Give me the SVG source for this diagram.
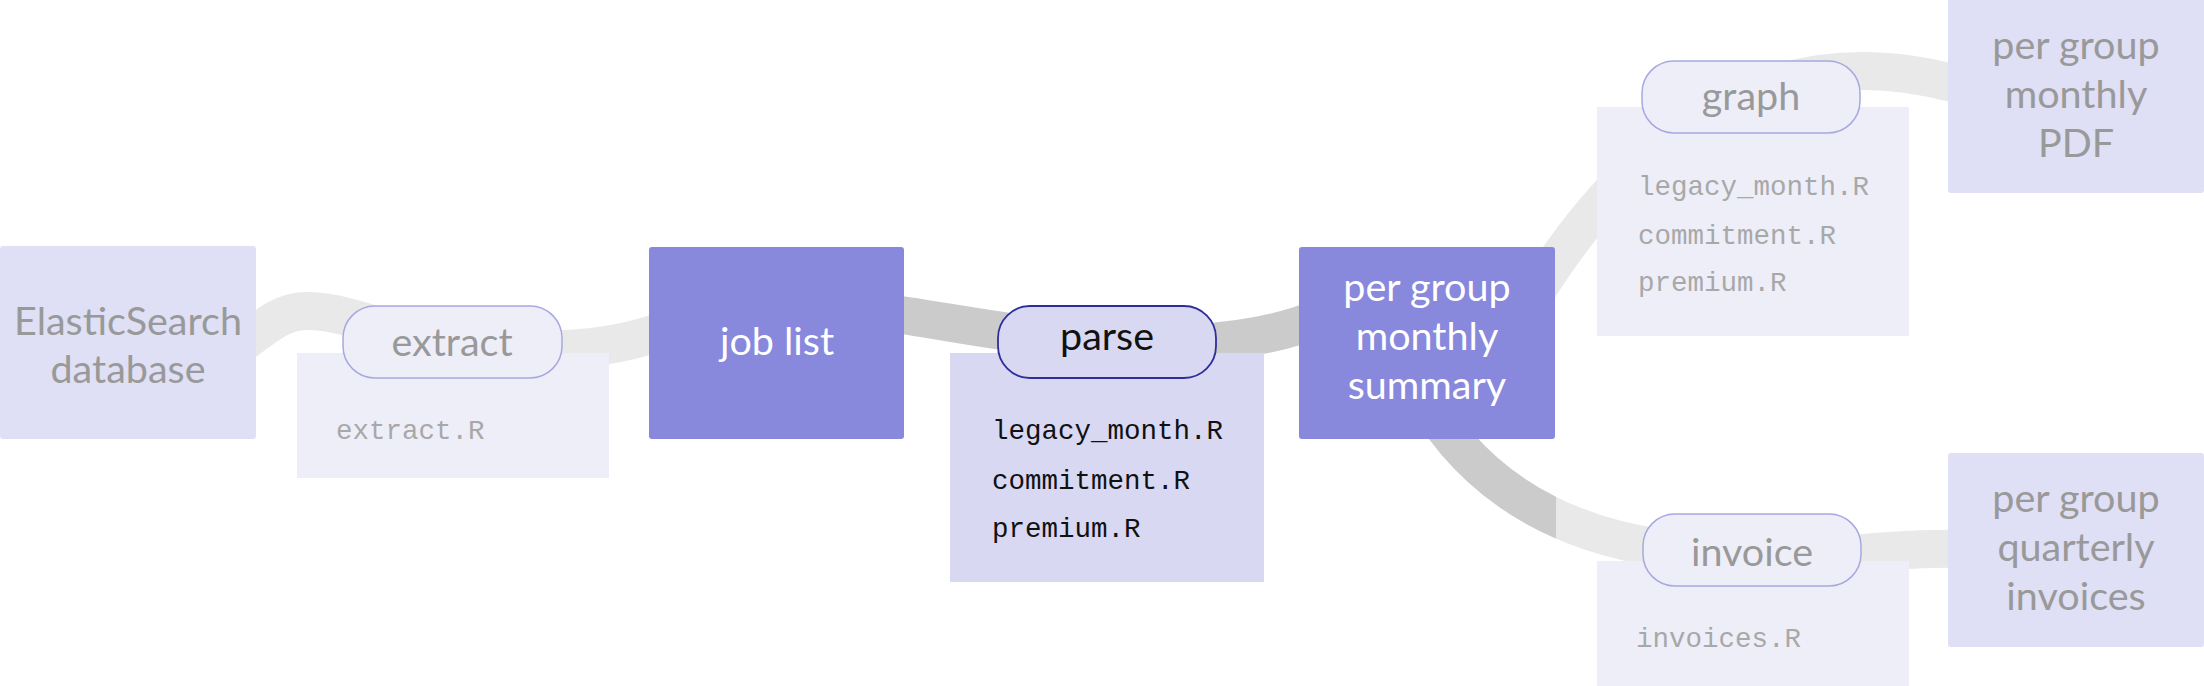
<svg xmlns="http://www.w3.org/2000/svg" width="2204" height="686" viewBox="0 0 2204 686">
<defs>
<style>
.lbl{font-family:Lato,"Liberation Sans",sans-serif;font-size:39.5px;text-anchor:middle}
.mono{font-family:"Courier New","Liberation Mono",monospace;font-size:27.5px}
.faded{fill:#dfdff5}
.active{fill:#8888dd}
.ftxt{fill:#999999}
.wtxt{fill:#ffffff}
.btxt{fill:#111111}
.mtxt{fill:#a8a8a8}
.pill-f{fill:#eeeef9;stroke:#a8a8e0;stroke-width:1.5}
.pill-a{fill:#d8d8f2;stroke:#2e2e9a;stroke-width:1.8}
.files-f{fill:#eeeef9}
.files-a{fill:#d8d8f2}
.band{fill:none;stroke-width:38}
.light{stroke:#e9e9e9}
.dark{stroke:#cbcbcb}
</style>
<clipPath id="leftOfCut"><rect x="0" y="0" width="1556" height="686"/></clipPath>
</defs>
<rect x="0" y="0" width="2204" height="686" fill="#ffffff"/>

<g id="connectors">
  <path class="band light" d="M240,345 C262,330 278,312 305,311 C345,310 380,332 450,341 C525,352 600,356 670,328"/>
  <path class="band dark" d="M880,312 C930,318 1000,333 1060,338 C1150,346 1240,350 1320,318"/>
  <path class="band light" d="M1525,310 C1650,100 1800,40 1960,85"/>
  <path class="band light" d="M1415,380 C1460,470 1540,530 1660,548 C1720,557 1800,558 1850,554 C1890,551 1920,548 1960,549"/>
  <path class="band dark" clip-path="url(#leftOfCut)" d="M1415,380 C1460,470 1540,530 1660,548"/>
</g>

<g id="node-elasticsearch">
  <rect class="faded" x="0" y="246" width="256" height="193" rx="3"/>
  <text class="lbl ftxt" x="128" y="335">ElasticSearch</text>
  <text class="lbl ftxt" x="128" y="383">database</text>
</g>

<g id="step-extract">
  <rect class="files-f" x="297" y="353" width="312" height="125"/>
  <rect class="pill-f" x="343" y="306" width="219" height="72" rx="32"/>
  <text class="lbl ftxt" x="452" y="356">extract</text>
  <text class="mono mtxt" x="336" y="439">extract.R</text>
</g>

<g id="node-joblist">
  <rect class="active" x="649" y="247" width="255" height="192" rx="3"/>
  <text class="lbl wtxt" x="777" y="355">job list</text>
</g>

<g id="step-parse">
  <rect class="files-a" x="950" y="353" width="314" height="229"/>
  <rect class="pill-a" x="998" y="306" width="218" height="72" rx="32"/>
  <text class="lbl btxt" x="1107" y="350">parse</text>
  <text class="mono btxt" x="992" y="439">legacy_month.R</text>
  <text class="mono btxt" x="992" y="489">commitment.R</text>
  <text class="mono btxt" x="992" y="537">premium.R</text>
</g>

<g id="node-summary">
  <rect class="active" x="1299" y="247" width="256" height="192" rx="3"/>
  <text class="lbl wtxt" x="1427" y="301">per group</text>
  <text class="lbl wtxt" x="1427" y="350">monthly</text>
  <text class="lbl wtxt" x="1427" y="399">summary</text>
</g>

<g id="step-graph">
  <rect class="files-f" x="1597" y="107" width="312" height="229"/>
  <rect class="pill-f" x="1642" y="61" width="218" height="72" rx="32"/>
  <text class="lbl ftxt" x="1751" y="110">graph</text>
  <text class="mono mtxt" x="1638" y="195">legacy_month.R</text>
  <text class="mono mtxt" x="1638" y="244">commitment.R</text>
  <text class="mono mtxt" x="1638" y="291">premium.R</text>
</g>

<g id="node-pdf">
  <rect class="faded" x="1948" y="-4" width="256" height="197" rx="3"/>
  <text class="lbl ftxt" x="2076" y="59">per group</text>
  <text class="lbl ftxt" x="2076" y="108">monthly</text>
  <text class="lbl ftxt" x="2076" y="157">PDF</text>
</g>

<g id="step-invoice">
  <rect class="files-f" x="1597" y="561" width="312" height="130"/>
  <rect class="pill-f" x="1643" y="514" width="218" height="72" rx="32"/>
  <text class="lbl ftxt" x="1752" y="566">invoice</text>
  <text class="mono mtxt" x="1636" y="647">invoices.R</text>
</g>

<g id="node-invoices">
  <rect class="faded" x="1948" y="453" width="256" height="194" rx="3"/>
  <text class="lbl ftxt" x="2076" y="512">per group</text>
  <text class="lbl ftxt" x="2076" y="561">quarterly</text>
  <text class="lbl ftxt" x="2076" y="610">invoices</text>
</g>
</svg>
